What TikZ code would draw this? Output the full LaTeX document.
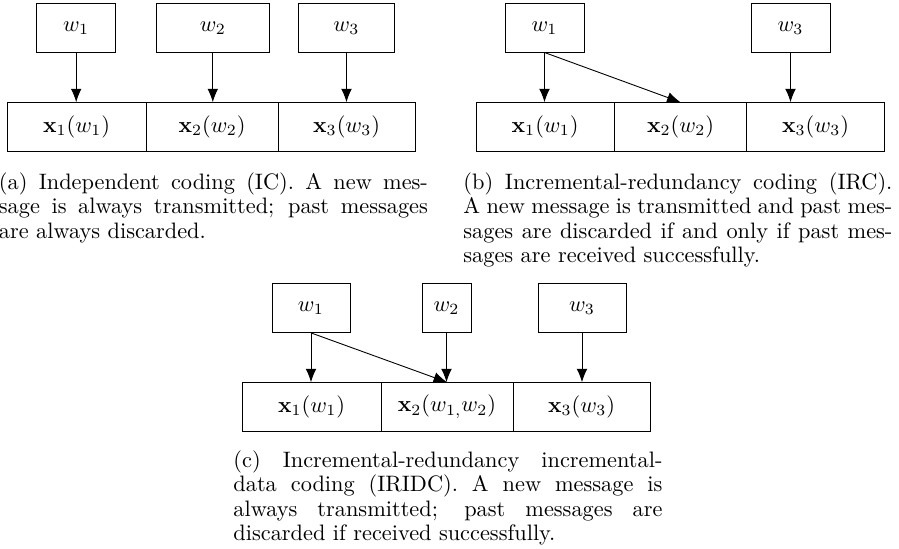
\documentclass[tikz,border=0pt]{standalone}
\usepackage{amsmath,amssymb}
\usepackage{tikz}
\usetikzlibrary{arrows.meta,positioning}

\def\pxu{0.4478pt}

\begin{document}
\begin{tikzpicture}[
  x=\pxu, y=-\pxu,
  msg/.style={draw, minimum width=#1*\pxu, minimum height=49*\pxu, inner sep=0pt, outer sep=0pt},
  cell/.style={draw, minimum width=#1*\pxu, minimum height=49*\pxu, inner sep=0pt, outer sep=0pt},
  arr/.style={-{Latex[length=6pt,width=4.8pt]}},
  captext/.style={anchor=north west, inner sep=0pt, text width=429*\pxu, align=justify, font=\fontsize{10}{11}\selectfont},
]
  \useasboundingbox (0,0) rectangle (899,549);

  % (a) independent coding
  \node[cell=138.7, anchor=west] (a1) at (7.3,126.7) {$\mathbf{x}_1(w_1)$};
  \node[cell=132.3, right=0pt of a1] (a2) {$\mathbf{x}_2(w_2)$};
  \node[cell=136.7, right=0pt of a2] (a3) {$\mathbf{x}_3(w_3)$};
  \node[msg=79] (aw1) at (76.2,28) {$w_1$};
  \node[msg=113] (aw2) at (212.8,28) {$w_2$};
  \node[msg=96.4] (aw3) at (346.5,28) {$w_3$};
  \draw[arr] (aw1.south) -- (aw1.south |- a1.north);
  \draw[arr] (aw2.south) -- (aw2.south |- a2.north);
  \draw[arr] (aw3.south) -- (aw3.south |- a3.north);
  \node[captext] (capa) at (-1.5,172) {(a) Independent coding (IC). A new mes-\linebreak sage is always transmitted; past messages\linebreak are always discarded.};

  % (b) incremental-redundancy coding
  \node[cell=138.3, anchor=west] (b1) at (476,126.7) {$\mathbf{x}_1(w_1)$};
  \node[cell=132.4, right=0pt of b1] (b2) {$\mathbf{x}_2(w_2)$};
  \node[cell=137.6, right=0pt of b2] (b3) {$\mathbf{x}_3(w_3)$};
  \node[msg=79] (bw1) at (544.5,28) {$w_1$};
  \node[msg=79] (bw3) at (790.5,28) {$w_3$};
  \draw[arr] (bw1.south) -- (bw1.south |- b1.north);
  \draw[arr] (bw1.south) -- (b2.north);
  \draw[arr] (bw3.south) -- (bw3.south |- b3.north);
  \node[captext] (capb) at (463,172) {(b) Incremental-redundancy coding (IRC).\linebreak A new message is transmitted and past mes-\linebreak sages are discarded if and only if past mes-\linebreak sages are received successfully.};

  % (c) incremental-redundancy incremental-data coding
  \node[cell=139, anchor=west] (c1) at (242,406.7) {$\mathbf{x}_1(w_1)$};
  \node[cell=132, right=0pt of c1] (c2) {$\mathbf{x}_2(w_{1,}w_2)$};
  \node[cell=137, right=0pt of c2] (c3) {$\mathbf{x}_3(w_3)$};
  \node[msg=78] (cw1) at (311,308.4) {$w_1$};
  \node[msg=49] (cw2) at (446.5,308.4) {$w_2$};
  \node[msg=88] (cw3) at (582,308.4) {$w_3$};
  \draw[arr] (cw1.south) -- (cw1.south |- c1.north);
  \draw[arr] (cw1.south) -- (c2.north);
  \draw[arr] (cw2.south) -- (cw2.south |- c2.north);
  \draw[arr] (cw3.south) -- (cw3.south |- c3.north);
  \node[captext] (capc) at (233,450) {(c) Incremental-redundancy incremental-\linebreak data coding (IRIDC). A new message is\linebreak always transmitted; past messages are\linebreak discarded if received successfully.};
\end{tikzpicture}
\end{document}
